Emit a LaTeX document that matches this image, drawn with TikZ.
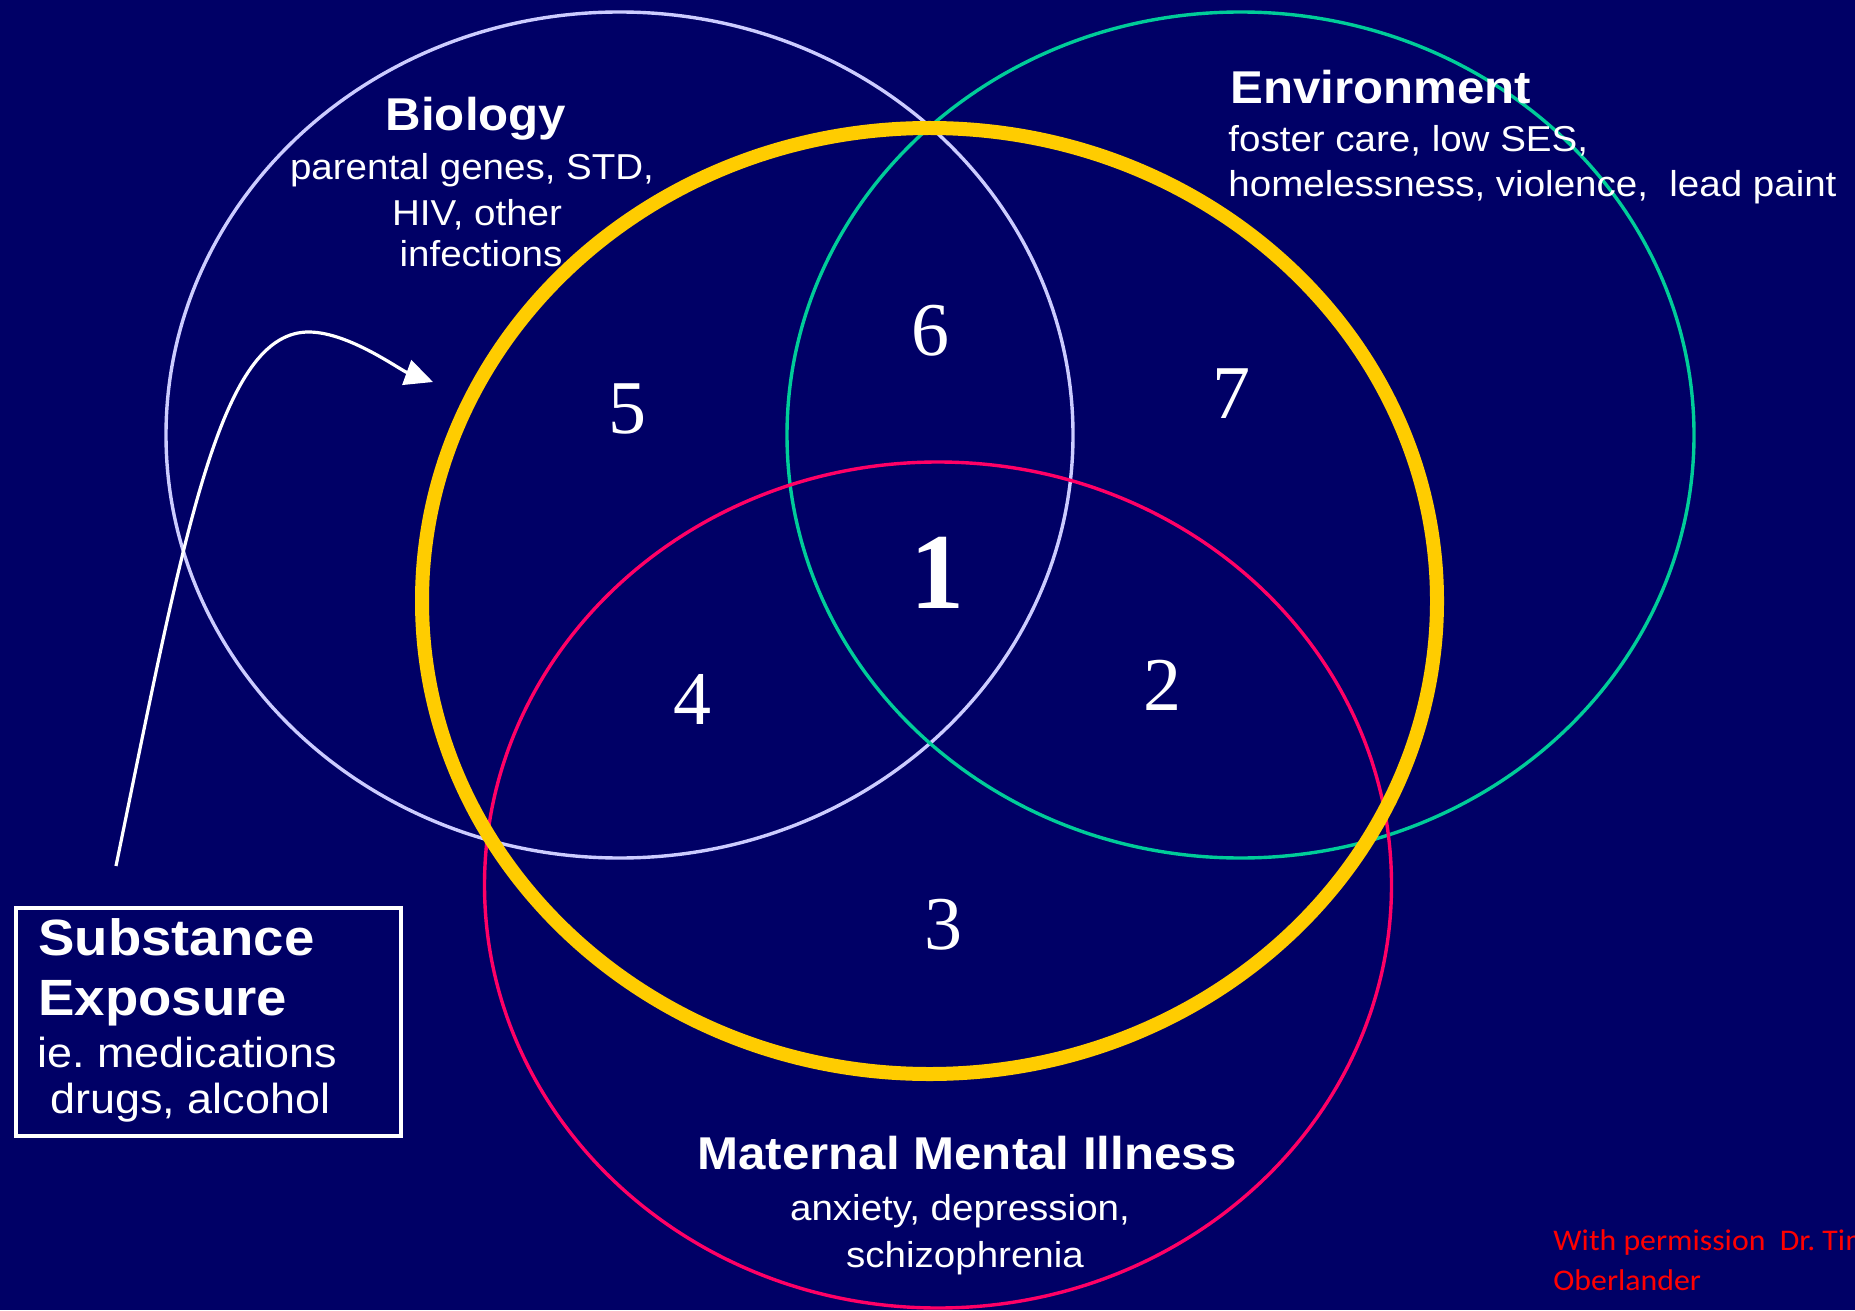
\documentclass[tikz,border=0pt]{standalone}
\usepackage{fontspec}
\setmainfont{Liberation Sans}[FakeStretch=1.07]
\newfontfamily\numfont{Liberation Serif}
\newfontfamily\creditfont{Carlito}[FakeStretch=1.06]
\usetikzlibrary{arrows.meta,shapes.geometric}
\definecolor{bgnavy}{RGB}{0,0,102}
\definecolor{biocol}{RGB}{204,204,255}
\definecolor{envcol}{RGB}{0,204,153}
\definecolor{matcol}{RGB}{255,0,102}
\definecolor{yelcol}{RGB}{255,204,0}
\definecolor{credcol}{RGB}{255,0,0}
\frenchspacing
\begin{document}
\begin{tikzpicture}[x=0.5pt,y=-0.5pt,
  ring/.style={ellipse, draw, line width=1.7pt, inner sep=0pt, minimum width=453.5pt, minimum height=423pt},
  bigring/.style={ellipse, draw=yelcol, line width=7pt, inner sep=0pt, minimum width=507.5pt, minimum height=473pt},
  ttl/.style={text=white, font=\bfseries\fontsize{23}{27}\selectfont, inner sep=0pt},
  subt/.style={text=white, font=\fontsize{18}{22}\selectfont, inner sep=0pt},
  boxttl/.style={text=white, font=\bfseries\fontsize{25.5}{30}\selectfont, inner sep=0pt, anchor=base west},
  boxsub/.style={text=white, font=\fontsize{21}{25}\selectfont, inner sep=0pt, anchor=base west},
  num/.style={text=white, font=\numfont\fontsize{38}{42}\selectfont, inner sep=0pt, anchor=base},
  bignum/.style={text=white, font=\numfont\bfseries\fontsize{54}{60}\selectfont, inner sep=0pt, anchor=base},
  credit/.style={text=credcol, font=\creditfont\fontsize{15}{18}\selectfont, inner sep=0pt, anchor=base west},
  pointer/.style={draw=white, line width=1.6pt, -{Triangle[length=14pt,width=13pt]}}
]
\fill[bgnavy] (0,0) rectangle (1855,1310);
\useasboundingbox (0,0) rectangle (1855,1310);
\clip (0,0) rectangle (1855,1310);

% circles
\node[ring, draw=biocol] (bio) at (619.5,435) {};
\node[ring, draw=envcol] (env) at (1240.5,435) {};
\node[ring, draw=matcol] (mat) at (938,885) {};
\node[bigring] (core) at (929.5,601) {};

% Biology
\node[ttl, anchor=base] (biot) at (476,131) {Biology};
\node[subt, anchor=base] (bio1) at (472,180) {parental genes, STD,};
\node[subt, anchor=base] (bio2) at (477,226) {HIV, other};
\node[subt, anchor=base] (bio3) at (481,267) {infections};

% Environment
\node[ttl, anchor=base west] (envt) at (1230,104) {Environment};
\node[subt, anchor=base west] (env1) at (1228,152) {foster care, low SES,};
\node[subt, anchor=base west] (env2) at (1228,197) {homelessness, violence,\ \ lead paint};

% Maternal Mental Illness
\node[ttl, anchor=base] (matt) at (967,1169) {Maternal Mental Illness};
\node[subt, anchor=base] (mat1) at (960,1220) {anxiety, depression,};
\node[subt, anchor=base] (mat2) at (965,1267) {schizophrenia};

% Substance exposure box
\node[draw=white, line width=2pt, inner sep=0pt, minimum width=192.5pt, minimum height=114pt] (subbox) at (208.5,1022) {};
\node[boxttl] (sub1) at (38,955) {Substance};
\node[boxttl] (sub2) at (38,1015) {Exposure};
\node[boxsub] (sub3) at (37,1067) {ie. medications};
\node[boxsub] (sub4) at (50,1113) {drugs, alcohol};

% region numbers
\node[num] (n6) at (930,355) {6};
\node[num] (n5) at (627,433) {5};
\node[num] (n7) at (1231,418) {7};
\node[bignum] (n1) at (937,608) {1};
\node[num] (n4) at (692,724) {4};
\node[num] (n2) at (1162,710) {2};
\node[num] (n3) at (943,949) {3};

% arrow
\coordinate (arrstart) at (116,866);
\coordinate (arrtip) at (433,382);
\draw[pointer] (arrstart) .. controls (185,530) and (220,330) .. (310,332)
  .. controls (350,333) and (400,370) .. (arrtip);

% credit
\node[credit] (cr1) at (1553,1250) {With permission\ \ Dr. Tim};
\node[credit] (cr2) at (1553,1290) {Oberlander};
\end{tikzpicture}
\end{document}
